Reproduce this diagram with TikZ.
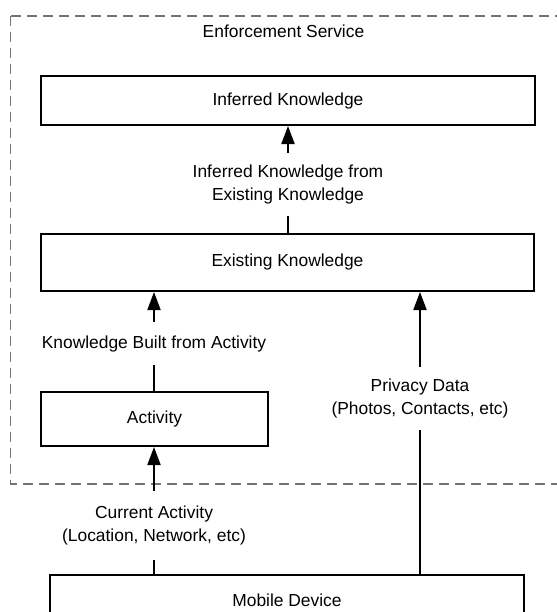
\documentclass[tikz,border=0pt]{standalone}
\usepackage{fontspec}
\setmainfont{Liberation Sans}
\usetikzlibrary{arrows.meta}

\begin{document}
\begin{tikzpicture}[x=0.5pt,y=-0.5pt,
  font=\fontsize{8.7}{11.25}\selectfont,
  box/.style={draw=black, line width=1pt, rectangle, inner sep=0pt},
  lbl/.style={inner sep=0pt, align=center},
  arr/.style={line width=1pt, -{Triangle[length=9pt,width=6.5pt]}},
  plain/.style={line width=1pt}]
\useasboundingbox (0,0) rectangle (557,612);
\clip (0,0) rectangle (557,612);
% enforcement service frame
\draw[draw=black!55, line width=0.8pt, dash pattern=on 5pt off 3pt] (10.7,16) rectangle (580,484);
\node[lbl] (service) at (283.5,31) {Enforcement Service};
% boxes
\node[box, minimum width=247pt, minimum height=24.5pt] (inferred) at (288,100.5) {Inferred Knowledge};
\node[box, minimum width=246.5pt, minimum height=28.75pt] (existing) at (287.5,262.25) {Existing Knowledge};
\node[box, minimum width=113.5pt, minimum height=27pt] (activity) at (154.5,419) {Activity};
\node[box, minimum width=237pt, minimum height=25.5pt] (mobile) at (287,600.5) {Mobile Device};
% connector labels
\node[lbl, minimum height=31.5pt] (infer) at (288,184.5) {Inferred Knowledge from\\Existing Knowledge};
\node[lbl, minimum height=21.5pt] (built) at (154,343.5) {Knowledge Built from Activity};
\node[lbl, minimum height=34.5pt] (current) at (154,525.5) {Current Activity\\(Location, Network, etc)};
\node[lbl, minimum height=31.5pt] (privacy) at (420,398.5) {Privacy Data\\(Photos, Contacts, etc)};
% connectors
\draw[plain] (existing.north -| infer.south) -- (infer.south);
\draw[arr] (infer.north) -- (inferred.south -| infer.north);
\draw[plain] (activity.north -| built.south) -- (built.south);
\draw[arr] (built.north) -- (existing.south -| built.north);
\draw[plain] (mobile.north -| current.south) -- (current.south);
\draw[arr] (current.north) -- (activity.south -| current.north);
\draw[plain] (mobile.north -| privacy.south) -- (privacy.south);
\draw[arr] (privacy.north) -- (existing.south -| privacy.north);
\end{tikzpicture}
\end{document}
